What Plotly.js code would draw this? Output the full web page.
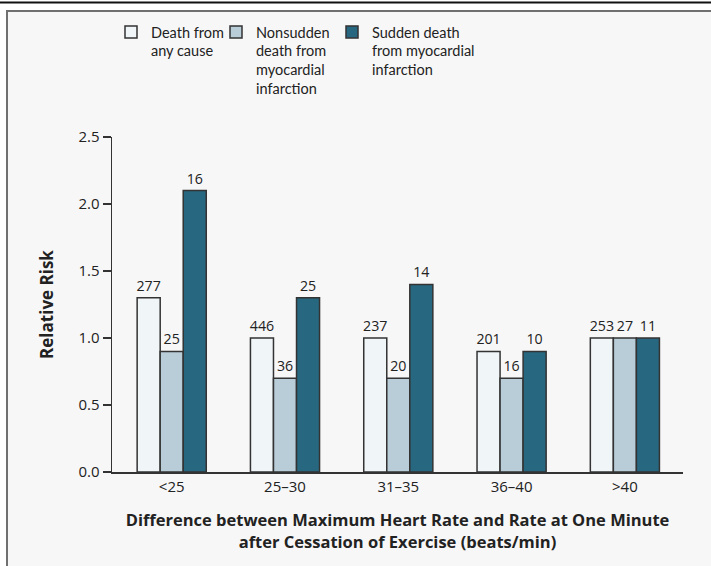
<!DOCTYPE html>
<html>
<head>
<meta charset="utf-8">
<script src="https://cdn.plot.ly/plotly-3.0.1.min.js"></script>
<style>
html,body{margin:0;padding:0;background:#ffffff;}
#chart{width:711px;height:566px;}
</style>
</head>
<body>
<div id="chart"></div>
<script>
var categories = ["<25", "25\u201330", "31\u201335", "36\u201340", ">40"];
var seriesNames = [
  "Death from<br>any cause",
  "Nonsudden<br>death from<br>myocardial<br>infarction",
  "Sudden death<br>from myocardial<br>infarction"
];
var anyCause = [1.3, 1.0, 1.0, 0.9, 1.0];
var nonsuddenMI = [0.9, 0.7, 0.7, 0.7, 1.0];
var suddenMI = [2.1, 1.3, 1.4, 0.9, 1.0];
var anyCauseN = ["277", "446", "237", "201", "253"];
var nonsuddenN = ["25", "36", "20", "16", "27"];
var suddenN = ["16", "25", "14", "10", "11"];
var yTicks = [0, 0.5, 1.0, 1.5, 2.0, 2.5];
var yTickLabels = ["0.0", "0.5", "1.0", "1.5", "2.0", "2.5"];

var W = 711, H = 566;
var M = {l: 112, r: 28, t: 137, b: 94};
var pw = W - M.l - M.r, ph = H - M.t - M.b;
function px(x){ return (x - M.l) / pw; }
function py(y){ return (H - M.b - y) / ph; }

var FONT = "'Open Sans', sans-serif";
var LFONT = "Lato, 'Open Sans', sans-serif";
var colors = ["#f0f5f8", "#b9cdd8", "#27677f"];
var vals = [anyCause, nonsuddenMI, suddenMI];
var texts = [anyCauseN, nonsuddenN, suddenN];
var legendIds = ["legend", "legend2", "legend3"];

var traces = vals.map(function(v, i){
  return {
    type: "bar",
    x: categories,
    y: v,
    name: seriesNames[i],
    text: texts[i],
    textposition: "outside",
    constraintext: "none",
    cliponaxis: false,
    textfont: {family: FONT, size: 14.2, color: "#222"},
    marker: {color: colors[i], line: {color: "#333", width: 1.5}},
    legend: legendIds[i],
    hoverinfo: "x+y"
  };
});

function legendAt(xpx){
  return {
    x: px(xpx), xanchor: "left", y: py(16), yanchor: "top",
    orientation: "v", valign: "top",
    bgcolor: "rgba(0,0,0,0)", borderwidth: 0,
    font: {family: LFONT, size: 14.5, color: "#222"},
    tracegroupgap: 0
  };
}

var layout = {
  width: W, height: H,
  margin: M,
  paper_bgcolor: "#ffffff",
  plot_bgcolor: "rgba(0,0,0,0)",
  barmode: "group",
  bargap: 0.39,
  bargroupgap: 0,
  showlegend: true,
  legend: legendAt(111),
  legend2: legendAt(216),
  legend3: legendAt(332),
  font: {family: FONT, size: 15, color: "#222"},
  xaxis: {
    type: "category",
    range: [-0.527, 4.513],
    showline: true, linecolor: "#333", linewidth: 1.5,
    ticks: "", showgrid: false, zeroline: false,
    tickfont: {family: FONT, size: 15, color: "#222"},
    title: {
      text: "Difference between Maximum Heart Rate and Rate at One Minute<br>after Cessation of Exercise (beats/min)",
      font: {family: FONT, size: 16.5, color: "#222", weight: "bold"},
      standoff: 20
    },
    fixedrange: true
  },
  yaxis: {
    range: [0, 2.5],
    tickmode: "array", tickvals: yTicks, ticktext: yTickLabels,
    showline: true, linecolor: "#333", linewidth: 1.5,
    ticks: "outside", ticklen: 8, tickwidth: 1.5, tickcolor: "#333",
    showgrid: false, zeroline: false,
    tickfont: {family: FONT, size: 15, color: "#222"},
    title: {
      text: "Relative Risk",
      font: {family: FONT, size: 17, color: "#222", weight: "bold"},
      standoff: 20
    },
    fixedrange: true
  },
  shapes: [
    {type: "rect", xref: "paper", yref: "paper", layer: "below",
     x0: px(7), x1: px(760), y0: py(11), y1: py(620),
     fillcolor: "#f7f7f7", line: {color: "#707070", width: 2}},
    {type: "line", xref: "paper", yref: "paper", layer: "below",
     x0: px(0), x1: px(711), y0: py(2.5), y1: py(2.5),
     line: {color: "#111", width: 2}}
  ]
};

Plotly.newPlot("chart", traces, layout, {displayModeBar: false, staticPlot: true});
</script>
</body>
</html>
